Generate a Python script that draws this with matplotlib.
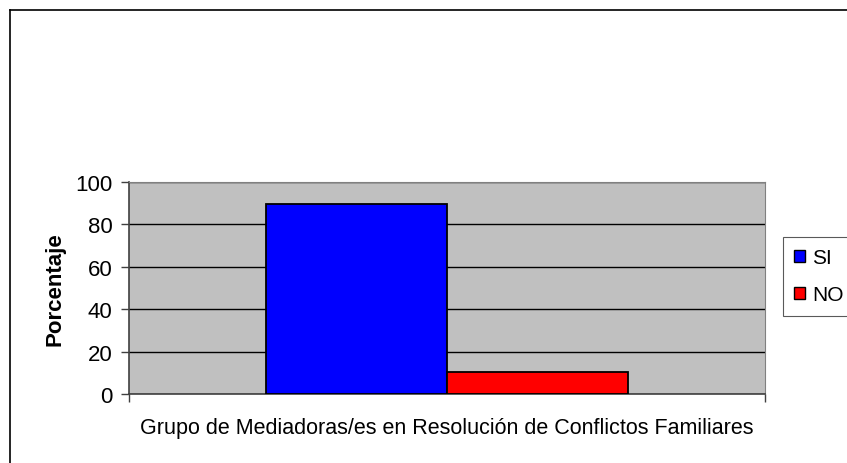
import matplotlib
matplotlib.use('agg')
import matplotlib.pyplot as plt
from matplotlib.patches import Rectangle
from matplotlib.lines import Line2D

# data
series = ['SI', 'NO']
values = [89.5, 10.5]
colors = ['#0000FF', '#FF0000']
category = 'Grupo de Mediadoras/es en Resolución de Conflictos Familiares'
y_ticks = [0, 20, 40, 60, 80, 100]

plt.rcParams['font.family'] = ['Liberation Sans', 'DejaVu Sans']

W, H = 847, 464
fig = plt.figure(figsize=(W / 100, H / 100), dpi=100)
ax = fig.add_axes([129 / W, 1 - 395 / H, (765 - 129) / W, (395 - 183) / H])

# outer frame (only top and left visible, rest cut off)
fig.add_artist(Line2D([10 / W, 10 / W], [0, 1 - 11 / H], color='black', lw=1.2))
fig.add_artist(Line2D([10 / W, 1], [1 - 11 / H, 1 - 11 / H], color='black', lw=1.2))

ax.set_facecolor('#C0C0C0')
bar_w = 0.285
offsets = [-bar_w / 2, bar_w / 2]
for s, v, c, off in zip(series, values, colors, offsets):
    ax.bar(off, v, width=bar_w, color=c, edgecolor='black', linewidth=1.3,
           label=s, zorder=3)

ax.set_xlim(-0.5, 0.5)
ax.set_ylim(0, 100)
ax.set_yticks(y_ticks)
ax.yaxis.grid(True, color='black', linewidth=1)
ax.set_axisbelow(True)
ax.set_xticks([-0.5, 0.5])
ax.set_xticklabels(['', ''])
ax.tick_params(axis='both', direction='out', length=6, width=1, labelsize=16,
               color='#404040')
ax.tick_params(axis='y', pad=6)

for side in ['top', 'right']:
    ax.spines[side].set_color('#808080')
for side in ['left', 'bottom']:
    ax.spines[side].set_color('#404040')
    ax.spines[side].set_linewidth(1.2)

ax.set_ylabel('Porcentaje', fontsize=16, fontweight='bold', labelpad=7)
ax.set_xlabel(category, fontsize=15.5, labelpad=7)

handles = [Rectangle((0, 0), 1, 1, facecolor=c, edgecolor='black', lw=1)
           for c in colors]
leg = fig.legend(handles, series, loc='upper left',
                 bbox_to_anchor=(783 / W, 1 - 238 / H), fontsize=15,
                 frameon=True, fancybox=False, edgecolor='#303030',
                 handlelength=0.5, handleheight=0.5, handletextpad=0.35,
                 labelspacing=0.85, borderpad=0.55, borderaxespad=0)
leg.get_frame().set_linewidth(0.8)

fig.savefig('out.png', dpi=100)
